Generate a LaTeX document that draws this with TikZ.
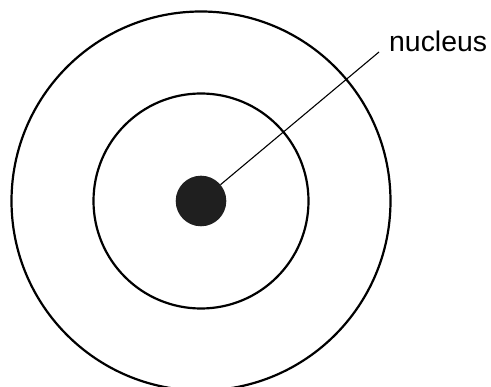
\documentclass[tikz,border=0pt]{standalone}
\usepackage{fontspec}
\setmainfont{Liberation Sans}
\begin{document}
\begin{tikzpicture}[
    x=1pt, y=-1pt,
    shell/.style={circle, draw, line width=2.2pt, inner sep=0pt},
    core/.style={circle, fill=black!88, inner sep=0pt, minimum size=50.6pt},
    tag/.style={anchor=base west, inner sep=0pt, font=\fontsize{28.4}{34}\selectfont}
]
    \useasboundingbox (0,0) rectangle (491,387);

    % Shells
    \node[shell, minimum size=379pt] (outer) at (201,201) {};
    \node[shell, minimum size=215pt] (inner) at (201,201) {};

    % Nucleus
    \node[core] (nucleus) at (201,201) {};

    % Label
    \coordinate (tip) at (379,52);
    \node[tag] (label) at (389,52) {nucleus};
    \draw[line width=1.1pt] (nucleus) -- (tip);
\end{tikzpicture}
\end{document}
